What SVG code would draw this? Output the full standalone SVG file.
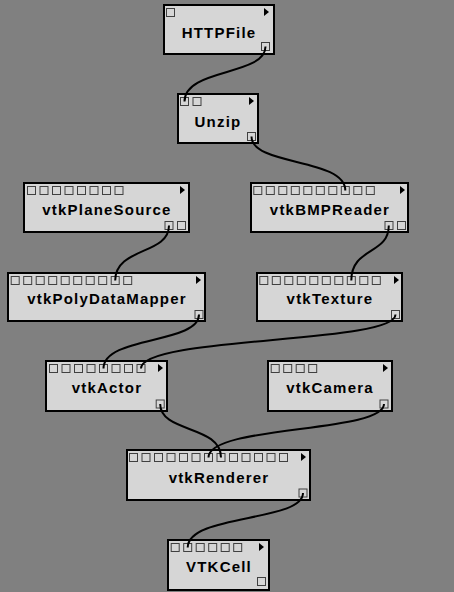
<svg xmlns="http://www.w3.org/2000/svg" width="454" height="592" viewBox="0 0 454 592">
<defs>
<style>
.box{fill:#d6d6d6;stroke:#000;stroke-width:2}
.port{fill:#d6d6d6;stroke:#404040;stroke-width:1}
.tri{fill:#000}
.lbl{font-family:"Liberation Sans",Arial,sans-serif;font-size:15px;font-weight:bold;letter-spacing:1.2px;fill:#000;text-anchor:middle}
.conn{fill:none;stroke:#000;stroke-width:2}
</style>
<g id="p8"><rect class="port" x="0.5" y="0.5" width="8" height="8"/></g>
</defs>
<rect width="454" height="592" fill="#808080"/>

<g id="HTTPFile">
<rect class="box" x="164" y="5" width="110" height="49"/>
<use href="#p8" x="166" y="8"/>
<path class="tri" d="M264,8 L269,12 L264,16 Z"/>
<text class="lbl" x="219" y="38">HTTPFile</text>
<use href="#p8" x="261" y="42"/>
</g>

<g id="Unzip">
<rect class="box" x="178" y="94" width="80" height="49"/>
<use href="#p8" x="180" y="93" transform="translate(0,4)"/>
<use href="#p8" x="192.5" y="97"/>
<path class="tri" d="M249,97 L254,101 L249,105 Z"/>
<text class="lbl" x="218" y="127">Unzip</text>
<use href="#p8" x="247" y="132"/>
</g>

<g id="vtkPlaneSource">
<rect class="box" x="24" y="183" width="165" height="49"/>
<use href="#p8" x="27" y="186"/><use href="#p8" x="39.5" y="186"/><use href="#p8" x="52" y="186"/><use href="#p8" x="64.5" y="186"/>
<use href="#p8" x="77" y="186"/><use href="#p8" x="89.5" y="186"/><use href="#p8" x="102" y="186"/><use href="#p8" x="114.5" y="186"/>
<path class="tri" d="M180,186 L185,190 L180,194 Z"/>
<text class="lbl" x="107" y="215">vtkPlaneSource</text>
<use href="#p8" x="164.5" y="221"/><use href="#p8" x="177" y="221"/>
</g>

<g id="vtkBMPReader">
<rect class="box" x="251" y="183" width="157" height="49"/>
<use href="#p8" x="253.3" y="186"/><use href="#p8" x="265.8" y="186"/><use href="#p8" x="278.3" y="186"/><use href="#p8" x="290.8" y="186"/><use href="#p8" x="303.3" y="186"/>
<use href="#p8" x="315.8" y="186"/><use href="#p8" x="328.3" y="186"/><use href="#p8" x="340.8" y="186"/><use href="#p8" x="353.3" y="186"/><use href="#p8" x="365.8" y="186"/>
<path class="tri" d="M400,186 L405,190 L400,194 Z"/>
<text class="lbl" x="330" y="215">vtkBMPReader</text>
<use href="#p8" x="384.5" y="221"/><use href="#p8" x="397" y="221"/>
</g>

<g id="vtkPolyDataMapper">
<rect class="box" x="8" y="273" width="197" height="48"/>
<use href="#p8" x="10.7" y="276"/><use href="#p8" x="23.2" y="276"/><use href="#p8" x="35.7" y="276"/><use href="#p8" x="48.2" y="276"/><use href="#p8" x="60.7" y="276"/>
<use href="#p8" x="73.2" y="276"/><use href="#p8" x="85.7" y="276"/><use href="#p8" x="98.2" y="276"/><use href="#p8" x="110.7" y="276"/><use href="#p8" x="123.2" y="276"/>
<path class="tri" d="M196,276 L201,280 L196,284 Z"/>
<text class="lbl" x="107" y="304">vtkPolyDataMapper</text>
<use href="#p8" x="194.5" y="310"/>
</g>

<g id="vtkTexture">
<rect class="box" x="257" y="273" width="145" height="48"/>
<use href="#p8" x="259.3" y="276"/><use href="#p8" x="271.8" y="276"/><use href="#p8" x="284.3" y="276"/><use href="#p8" x="296.8" y="276"/><use href="#p8" x="309.3" y="276"/>
<use href="#p8" x="321.8" y="276"/><use href="#p8" x="334.3" y="276"/><use href="#p8" x="346.8" y="276"/><use href="#p8" x="359.3" y="276"/><use href="#p8" x="371.8" y="276"/>
<path class="tri" d="M394,276 L399,280 L394,284 Z"/>
<text class="lbl" x="330" y="304">vtkTexture</text>
<use href="#p8" x="391" y="310"/>
</g>

<g id="vtkActor">
<rect class="box" x="46" y="361" width="121" height="50"/>
<use href="#p8" x="49" y="364"/><use href="#p8" x="61.5" y="364"/><use href="#p8" x="74" y="364"/><use href="#p8" x="86.5" y="364"/>
<use href="#p8" x="99" y="364"/><use href="#p8" x="111.5" y="364"/><use href="#p8" x="124" y="364"/><use href="#p8" x="136.5" y="364"/>
<path class="tri" d="M158,364 L163,368 L158,372 Z"/>
<text class="lbl" x="107" y="393">vtkActor</text>
<use href="#p8" x="155.7" y="399.5"/>
</g>

<g id="vtkCamera">
<rect class="box" x="268" y="361" width="124" height="50"/>
<use href="#p8" x="270.7" y="364"/><use href="#p8" x="283.2" y="364"/><use href="#p8" x="295.7" y="364"/><use href="#p8" x="308.2" y="364"/>
<path class="tri" d="M383,364 L388,368 L383,372 Z"/>
<text class="lbl" x="330" y="393">vtkCamera</text>
<use href="#p8" x="379.5" y="399.5"/>
</g>

<g id="vtkRenderer">
<rect class="box" x="127" y="450" width="183" height="50"/>
<use href="#p8" x="129" y="453"/><use href="#p8" x="141.5" y="453"/><use href="#p8" x="154" y="453"/><use href="#p8" x="166.5" y="453"/><use href="#p8" x="179" y="453"/>
<use href="#p8" x="191.5" y="453"/><use href="#p8" x="204" y="453"/><use href="#p8" x="216.5" y="453"/><use href="#p8" x="229" y="453"/><use href="#p8" x="241.5" y="453"/>
<use href="#p8" x="254" y="453"/><use href="#p8" x="266.5" y="453"/><use href="#p8" x="279" y="453"/>
<path class="tri" d="M301,453 L306,457 L301,461 Z"/>
<text class="lbl" x="219" y="483">vtkRenderer</text>
<use href="#p8" x="298.5" y="488.5"/>
</g>

<g id="VTKCell">
<rect class="box" x="168" y="540" width="101" height="50"/>
<use href="#p8" x="170.7" y="543"/><use href="#p8" x="183.2" y="543"/><use href="#p8" x="195.7" y="543"/><use href="#p8" x="208.2" y="543"/><use href="#p8" x="220.7" y="543"/><use href="#p8" x="233.2" y="543"/>
<path class="tri" d="M259,543 L264,547 L259,551 Z"/>
<text class="lbl" x="219" y="572">VTKCell</text>
<use href="#p8" x="257" y="577"/>
</g>

<g id="connectors">
<path class="conn" d="M265.5,46.5 C265.5,76 184.5,68 184.5,101.5"/>
<path class="conn" d="M251.5,136.5 C251.5,166 345.3,158 345.3,190.5"/>
<path class="conn" d="M169,225.5 C169,255 115.2,247 115.2,280.5"/>
<path class="conn" d="M388.8,225.5 C388.8,255 351.3,247 351.3,280.5"/>
<path class="conn" d="M199,314.5 C199,344 103.5,336 103.5,368.5"/>
<path class="conn" d="M395.5,314.5 C395.5,344 141,336 141,368.5"/>
<path class="conn" d="M160.2,404 C160.2,433 221,425 221,457.5"/>
<path class="conn" d="M384,404 C384,433 208.5,425 208.5,457.5"/>
<path class="conn" d="M303,493 C303,522 187.7,514 187.7,547.5"/>
</g>
</svg>
